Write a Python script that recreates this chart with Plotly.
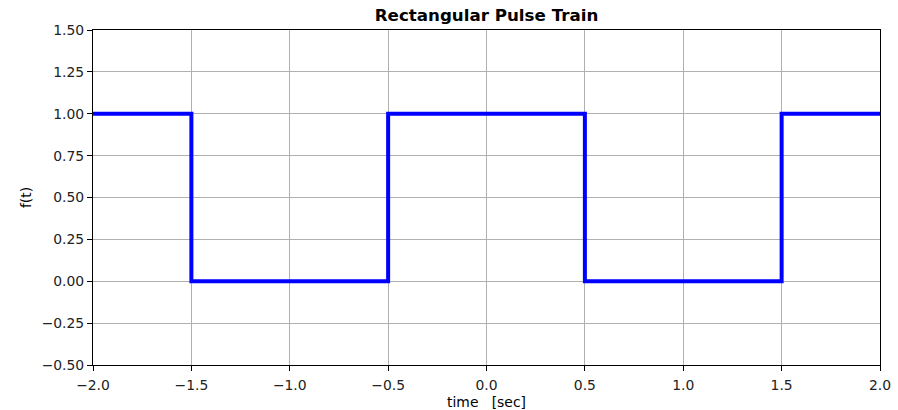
import plotly.graph_objects as go

# Breakpoints of the rectangular pulse train and the level held after each one
t_points = [-2.0, -1.5, -0.5, 0.5, 1.5, 2.0]
f_levels = [1.0, 0.0, 1.0, 0.0, 1.0, 1.0]

x_ticks = [-2.0, -1.5, -1.0, -0.5, 0.0, 0.5, 1.0, 1.5, 2.0]
y_ticks = [-0.5, -0.25, 0.0, 0.25, 0.5, 0.75, 1.0, 1.25, 1.5]

fig = go.Figure()
fig.add_trace(go.Scatter(
    x=t_points, y=f_levels, mode="lines", line_shape="hv",
    line=dict(color="#0000ff", width=4), showlegend=False,
))

axis_common = dict(
    showline=True, linecolor="black", linewidth=1, mirror=True,
    showgrid=True, gridcolor="#b0b0b0", gridwidth=1,
    ticks="outside", ticklen=5, tickwidth=1, tickcolor="black",
    zeroline=False, automargin=False,
    tickfont=dict(family="DejaVu Sans", size=13.9, color="#222"),
)

fig.update_xaxes(range=[-2, 2], tickvals=x_ticks, tickformat=".1f",
                 ticklabelstandoff=2,
                 title=dict(text="time\u00a0\u00a0\u00a0[sec]", standoff=6,
                            font=dict(family="DejaVu Sans", size=13.9, color="black")),
                 **axis_common)
fig.update_yaxes(range=[-0.5, 1.5], tickvals=y_ticks, tickformat=".2f",
                 title=dict(text="f(t)", standoff=6,
                            font=dict(family="DejaVu Sans", size=13.9, color="black")),
                 **axis_common)

fig.update_layout(
    width=898, height=410,
    margin=dict(l=93, r=18, t=30, b=45),
    paper_bgcolor="white", plot_bgcolor="white",
    title=dict(text="<b>Rectangular Pulse Train</b>", x=0.5, xref="paper",
               y=1 - 15 / 410, yanchor="middle",
               font=dict(family="DejaVu Sans", size=16.7, color="black")),
)

fig.write_html("out.html")
